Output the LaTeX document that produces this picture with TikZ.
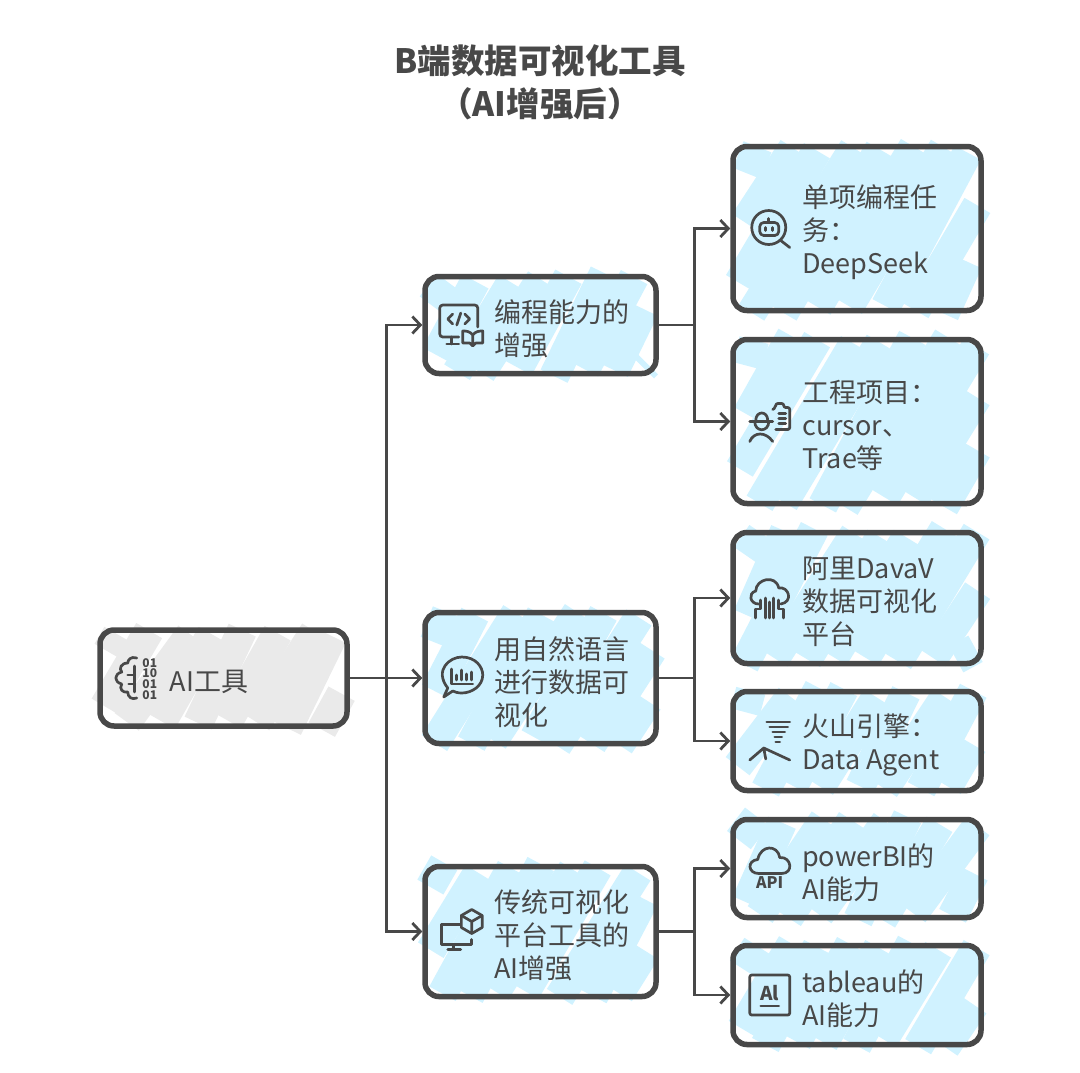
\documentclass[tikz,border=0pt]{standalone}
\usepackage{fontspec}
\setmainfont{Noto Sans CJK SC}
\usetikzlibrary{arrows.meta,backgrounds}

\definecolor{inkgray}{HTML}{484848}
\definecolor{skyfill}{HTML}{D0F2FF}
\definecolor{rootfill}{HTML}{EAEAEA}

\newcommand{\roughfill}[2]{%
  \begin{scope}[on background layer]
    \path ([shift={(12pt,-4pt)}]#1.north west); \pgfgetlastxy{\xa}{\ya}
    \path ([shift={(-12pt,4pt)}]#1.south east); \pgfgetlastxy{\xb}{\yb}
    \pgfmathsetmacro{\first}{\xa-(\ya-\yb)*0.577+14}
    \pgfmathsetmacro{\stepx}{\first+31}
    \foreach \c in {\first,\stepx,...,\xb} {
      \pgfmathsetmacro{\xs}{max(\c,\xa)}
      \pgfmathsetmacro{\xe}{min(\c+(\ya-\yb)*0.577,\xb)}
      \pgfmathsetmacro{\ys}{\yb+(\xs-\c)/0.577+rand*5}
      \pgfmathsetmacro{\ye}{\yb+(\xe-\c)/0.577+rand*5}
      \pgfmathsetmacro{\ja}{rand*6}
      \pgfmathsetmacro{\jb}{rand*6}
      \draw[#2,line width=30pt,line cap=butt]
        ({(\xs+\ja)*1pt},{\ys*1pt}) -- ({(\xe+\jb)*1pt},{\ye*1pt});
    }
  \end{scope}}

\tikzset{
  >={Straight Barb[length=8pt,width=17pt]},
  box/.style={draw=inkgray,line width=5.5pt,rounded corners=14pt},
  rootbox/.style={box,minimum width=247pt,minimum height=96pt},
  midbox/.style={box,minimum width=231pt},
  leafbox/.style={box,minimum width=248pt},
  boxtext/.style={anchor=west,align=left,inner sep=0pt,outer sep=0pt,text=inkgray,yshift=-4pt,
    font=\fontsize{27pt}{33pt}\selectfont},
  titletext/.style={align=center,inner sep=0pt,text=inkgray,
    font=\fontsize{33.5pt}{43pt}\selectfont\bfseries},
  link/.style={draw=inkgray,line width=2.8pt},
  iconline/.style={draw=inkgray,line width=2.7pt,line cap=round,line join=round},
  icontext/.style={inner sep=0pt,text=inkgray,font=\fontsize{#1}{#1}\selectfont\bfseries},
  iconbrain/.pic={
    \draw[iconline] (0,-20) .. controls (-6,-22) and (-9,-18) .. (-9,-15)
      .. controls (-16,-15) and (-18,-9) .. (-15,-6)
      .. controls (-23,-4) and (-23,4) .. (-15,6)
      .. controls (-18,11) and (-14,15) .. (-9,14)
      .. controls (-9,19) and (-5,22) .. (0,20);
    \draw[iconline] (-2,-12) -- (-2,14) (-2,-3) -- (-9,-3) (-2,6) -- (-8,6);
    \foreach \y/\bits in {-15/01,-5/10,6/01,17/01}
      \node[icontext=12pt] (bits\y) at (13,\y) {\bits};
  },
  iconcode/.pic={
    \draw[iconline,rounded corners=3pt] (-3,12) -- (-22,12) -- (-22,-20) -- (16,-20) -- (16,2);
    \draw[iconline] (-10,12) -- (-10,19) (-15,19) -- (-3,19);
    \draw[iconline] (-9,-11) -- (-14,-6) -- (-9,-1) (3,-11) -- (8,-6) -- (3,-1) (-1,-12) -- (-5,0);
    \draw[iconline] (11,10) .. controls (8,6) and (4,6) .. (1,6) -- (1,18) -- (8,18) -- (11,21)
      -- (14,18) -- (21,18) -- (21,6) .. controls (18,6) and (14,6) .. (11,10) -- (11,20);
  },
  iconrobot/.pic={
    \draw[iconline] (-1,-1) circle (17);
    \draw[iconline] (11,12) -- (20,19);
    \draw[iconline,rounded corners=4pt] (-10,-6) rectangle (9,7);
    \draw[iconline] (-4,-1) -- (-4,2) (3,-1) -- (3,2) (-1,-6) -- (-1,-10);
  },
  iconworker/.pic={
    \draw[iconline] (-14,-1) .. controls (-14,-11) and (-2,-11) .. (-2,-1);
    \draw[iconline] (-15,0) .. controls (-15,11) and (-1,11) .. (-1,0);
    \draw[iconline] (-20,0) -- (3,0);
    \draw[iconline] (-20,20) .. controls (-16,10) and (-4,10) .. (3,20);
    \draw[iconline,rounded corners=2pt] (3,-12) -- (6,-14) -- (6,-18) -- (14,-18) -- (14,-14)
      -- (20,-14) -- (20,8) -- (6,8);
    \draw[iconline] (9,-8) -- (16,-8) (9,-3) -- (16,-3) (9,2) -- (16,2);
  },
  iconchat/.pic={
    \draw[iconline] (-14,10) .. controls (-28,-8) and (-12,-21) .. (0,-21)
      .. controls (14,-21) and (21,-11) .. (21,-3)
      .. controls (21,8) and (10,15) .. (0,15)
      .. controls (-4,15) and (-7,14) .. (-9,13) -- (-18,19) -- cycle;
    \draw[iconline] (-10,-9) -- (-10,6) -- (11,6);
    \draw[iconline] (-5,-3) -- (-5,2) (0,-8) -- (0,2) (5,-4) -- (5,2) (10,-6) -- (10,2);
  },
  iconcloudnet/.pic={
    \draw[iconline] (-11,6) .. controls (-20,6) and (-22,-5) .. (-14,-7)
      .. controls (-14,-19) and (6,-24) .. (9,-10)
      .. controls (19,-12) and (24,4) .. (11,6);
    \draw[iconline] (-4,0) -- (-4,20) (0,4) -- (0,20) (4,0) -- (4,20);
    \draw[iconline] (-9,2) -- (-9,11) -- (-14,11) -- (-14,20) (9,2) -- (9,11) -- (14,11) -- (14,20);
  },
  icontornado/.pic={
    \draw[iconline] (-3,-19) -- (20,-19) (0,-14) -- (18,-14) (3,-9) -- (15,-9)
      (5,-4) -- (12,-4) (6,1) -- (10,1);
    \draw[iconline] (-20,19) -- (-6,7) -- (20,19) (-6,7) -- (-4,18);
  },
  iconmonitor/.pic={
    \draw[iconline] (-2,-7) -- (-20,-7) -- (-20,13) -- (10,13) -- (10,8);
    \draw[iconline] (-8,13) -- (-8,18) (-14,18) -- (-1,18);
    \draw[iconline] (10,-22) -- (20.4,-16) -- (20.4,-4) -- (10,2) -- (-0.4,-4) -- (-0.4,-16) -- cycle;
    \draw[iconline] (-0.4,-16) -- (10,-10) -- (20.4,-16) (10,-10) -- (10,2);
  },
  iconapi/.pic={
    \draw[iconline] (-11,5) .. controls (-22,5) and (-23,-8) .. (-12,-9)
      .. controls (-9,-24) and (8,-24) .. (10,-11)
      .. controls (22,-12) and (24,5) .. (12,5) -- cycle;
    \node[icontext=16pt] (apilabel) at (0,14) {API};
  },
  iconai/.pic={
    \draw[iconline,rounded corners=2pt] (-20,-20) rectangle (20,20);
    \node[icontext=19pt] (ailabel) at (0,-2) {Al};
    \draw[iconline] (-9,11) -- (9,11);
  },
}

\begin{document}
\begin{tikzpicture}[x=1pt,y=-1pt,node distance=100pt]
      \useasboundingbox (0,0) rectangle (1080,1072);

      \node[titletext] (title) at (540,82.5) {B端数据可视化工具\\（AI增强后）};

      \node[rootbox] (root) at (223.5,678) {};
      \node[midbox,minimum height=131pt,right of=root,xshift=217pt] (speech) {};
      \node[midbox,minimum height=97pt,above of=speech,yshift=253pt] (coding) {};
      \node[midbox,minimum height=130pt,below of=speech,yshift=-153.5pt] (classic) {};

      \node[leafbox,minimum height=164pt,right of=coding,xshift=216.5pt,yshift=96.5pt] (deepseek) {};
      \node[leafbox,minimum height=164pt,below of=deepseek,yshift=-93pt] (cursor) {};
      \node[leafbox,minimum height=131pt,right of=speech,xshift=216.5pt,yshift=80pt] (datav) {};
      \node[leafbox,minimum height=99pt,below of=datav,yshift=-43pt] (agent) {};
      \node[leafbox,minimum height=98pt,right of=classic,xshift=216.5pt,yshift=63pt] (powerbi) {};
      \node[leafbox,minimum height=99pt,below of=powerbi,yshift=-26.5pt] (tableau) {};

      \pgfmathsetseed{17}
      \roughfill{root}{rootfill}
      \roughfill{coding}{skyfill}
      \roughfill{speech}{skyfill}
      \roughfill{classic}{skyfill}
      \roughfill{deepseek}{skyfill}
      \roughfill{cursor}{skyfill}
      \roughfill{datav}{skyfill}
      \roughfill{agent}{skyfill}
      \roughfill{powerbi}{skyfill}
      \roughfill{tableau}{skyfill}

      \node[boxtext] (roottext) at ([xshift=72.5pt]root.west) {AI工具};
      \node[boxtext] (codingtext) at ([xshift=72pt]coding.west) {编程能力的\\增强};
      \node[boxtext] (speechtext) at ([xshift=72pt]speech.west) {用自然语言\\进行数据可\\视化};
      \node[boxtext] (classictext) at ([xshift=72pt]classic.west) {传统可视化\\平台工具的\\AI增强};
      \node[boxtext] (deepseektext) at ([xshift=72pt]deepseek.west) {单项编程任\\务：\\DeepSeek};
      \node[boxtext] (cursortext) at ([xshift=72pt]cursor.west) {工程项目：\\cursor、\\Trae等};
      \node[boxtext] (datavtext) at ([xshift=72pt]datav.west) {阿里DavaV\\数据可视化\\平台};
      \node[boxtext] (agenttext) at ([xshift=72pt]agent.west) {火山引擎：\\Data Agent};
      \node[boxtext] (powerbitext) at ([xshift=72pt]powerbi.west) {powerBI的\\AI能力};
      \node[boxtext] (tableautext) at ([xshift=72pt]tableau.west) {tableau的\\AI能力};

      \pic at ([xshift=39.5pt]root.west) {iconbrain};
      \pic at ([xshift=39.5pt]coding.west) {iconcode};
      \pic at ([xshift=39.5pt]speech.west) {iconchat};
      \pic at ([xshift=39.5pt]classic.west) {iconmonitor};
      \pic at ([xshift=39.5pt]deepseek.west) {iconrobot};
      \pic at ([xshift=39.5pt]cursor.west) {iconworker};
      \pic at ([xshift=39.5pt]datav.west) {iconcloudnet};
      \pic at ([xshift=39.5pt]agent.west) {icontornado};
      \pic at ([xshift=39.5pt]powerbi.west) {iconapi};
      \pic at ([xshift=39.5pt]tableau.west) {iconai};

      \coordinate (rootbus) at ([xshift=36.5pt]root.east);
      \coordinate (codingbus) at ([xshift=35.5pt]coding.east);
      \coordinate (speechbus) at ([xshift=35.5pt]speech.east);
      \coordinate (classicbus) at ([xshift=35.5pt]classic.east);

      \draw[link,->] (root.east) -- (speech.west);
      \draw[link,->] (rootbus) |- (coding.west);
      \draw[link,->] (rootbus) |- (classic.west);
      \draw[link] (coding.east) -- (codingbus);
      \draw[link,->] (codingbus) |- (deepseek.west);
      \draw[link,->] (codingbus) |- (cursor.west);
      \draw[link] (speech.east) -- (speechbus);
      \draw[link,->] (speechbus) |- (datav.west);
      \draw[link,->] (speechbus) |- (agent.west);
      \draw[link] (classic.east) -- (classicbus);
      \draw[link,->] (classicbus) |- (powerbi.west);
      \draw[link,->] (classicbus) |- (tableau.west);
    \end{tikzpicture}
\end{document}
